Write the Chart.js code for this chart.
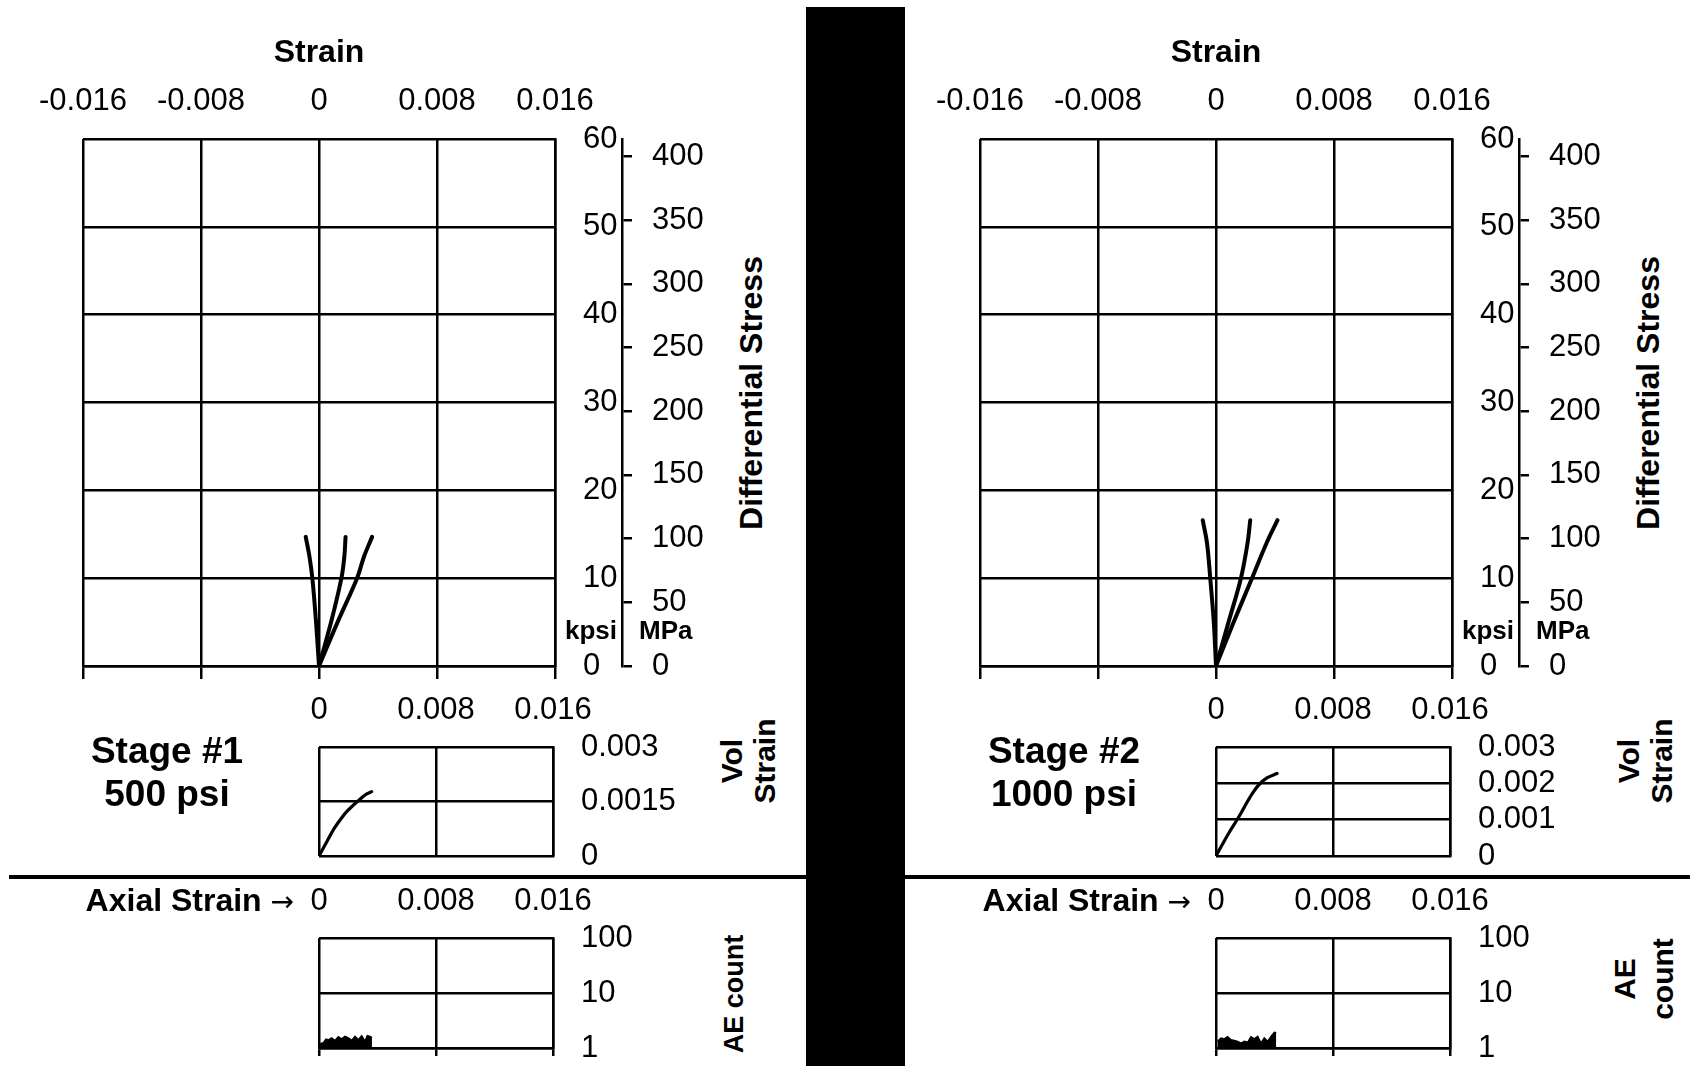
<!DOCTYPE html>
<html>
<head>
<meta charset="utf-8">
<title>Triaxial stages: stress, volumetric strain and AE count</title>
<script src="https://cdn.jsdelivr.net/npm/chart.js@4/dist/chart.umd.min.js"></script>
<style>
  html, body { margin: 0; padding: 0; background: #fff; }
  #page { position: relative; width: 1690px; height: 1066px; overflow: hidden;
          font-family: "Liberation Sans", Arial, sans-serif; color: #000; }
  #page canvas { position: absolute; }
  .lbl { position: absolute; white-space: nowrap; font-weight: bold; }
  .vt  { position: absolute; transform: translate(-50%, -50%) rotate(-90deg);
         text-align: center; font-weight: bold; white-space: nowrap; }
  .bar { position: absolute; background: #000; }
  .arrow { font-family: "DejaVu Sans", sans-serif; font-weight: normal; font-size: 28px; }
</style>
</head>
<body>
<div id="page">
  <div id="plots"></div>

  <!-- panel dividers -->
  <div class="bar" style="left:806px;top:7px;width:99px;height:1059px;"></div>
  <div class="bar" style="left:9px;top:875px;width:797px;height:4px;"></div>
  <div class="bar" style="left:905px;top:875px;width:785px;height:4px;"></div>

  <!-- stage captions -->
  <div class="lbl" style="left:17px;top:729px;width:300px;text-align:center;font-size:37px;line-height:43px;">Stage #1<br>500 psi</div>
  <div class="lbl" style="left:914px;top:729px;width:300px;text-align:center;font-size:37px;line-height:43px;">Stage #2<br>1000 psi</div>

  <div class="lbl" style="right:1396px;top:881px;text-align:right;font-size:32px;line-height:38px;">Axial Strain <span class="arrow">&rarr;</span></div>
  <div class="lbl" style="right:499px;top:881px;text-align:right;font-size:32px;line-height:38px;">Axial Strain <span class="arrow">&rarr;</span></div>

  <!-- stress unit captions -->
  <div class="lbl" style="right:1073px;top:615px;font-size:26px;line-height:30px;">kpsi</div>
  <div class="lbl" style="left:639px;top:615px;font-size:26px;line-height:30px;">MPa</div>
  <div class="lbl" style="right:176px;top:615px;font-size:26px;line-height:30px;">kpsi</div>
  <div class="lbl" style="left:1536px;top:615px;font-size:26px;line-height:30px;">MPa</div>

  <!-- vertical axis titles -->
  <div class="vt" style="left:751px;top:393px;font-size:32px;line-height:36px;">Differential Stress</div>
  <div class="vt" style="left:1648px;top:393px;font-size:32px;line-height:36px;">Differential Stress</div>
  <div class="vt" style="left:748px;top:761px;font-size:30px;line-height:33px;">Vol<br>Strain</div>
  <div class="vt" style="left:1645px;top:761px;font-size:30px;line-height:33px;">Vol<br>Strain</div>
  <div class="vt" style="left:734px;top:994px;font-size:27px;line-height:34px;">AE count</div>
  <div class="vt" style="left:1644px;top:979px;font-size:30px;line-height:38px;">AE<br>count</div>
</div>

<script>
// ---- tick values ----
const strainTicks = [-0.016, -0.008, 0, 0.008, 0.016];
const axialTicks  = [0, 0.008, 0.016];
const kpsiTicks   = [0, 10, 20, 30, 40, 50, 60];
const mpaTicks    = [0, 50, 100, 150, 200, 250, 300, 350, 400];
const volTicks1   = [0, 0.0015, 0.003];
const volTicks2   = [0, 0.001, 0.002, 0.003];
const aeTicks     = [1, 10, 100];
const KPSI_TO_MPA = 6.894757;

// ---- Stage #1 (500 psi): differential stress (kpsi) vs strain ----
const s1Stress      = [0, 5, 10, 12.5, 14.7];
const s1Radial      = [0, -0.0002, -0.00045, -0.00065, -0.0009];
const s1Volumetric  = [0, 0.00082, 0.00152, 0.00172, 0.0018];
const s1Axial       = [0, 0.00126, 0.00258, 0.00306, 0.0036];

// ---- Stage #2 (1000 psi) ----
const s2Stress      = [0, 5, 10, 14, 16.6];
const s2Radial      = [0, -0.00015, -0.00039, -0.00061, -0.0009];
const s2Volumetric  = [0, 0.00085, 0.00169, 0.00214, 0.00232];
const s2Axial       = [0, 0.0012, 0.00244, 0.00343, 0.00417];

// ---- volumetric strain vs axial strain ----
const s1VolAxial  = [0, 0.00041, 0.00098, 0.00144, 0.00189, 0.00235, 0.00269, 0.00315, 0.0036];
const s1VolStrain = [0, 0.0003, 0.00072, 0.00099, 0.00122, 0.0014, 0.00152, 0.00168, 0.00177];
const s2VolAxial  = [0, 0.00041, 0.00086, 0.00143, 0.00189, 0.00234, 0.00291, 0.00348, 0.00417];
const s2VolStrain = [0, 0.0003, 0.00062, 0.00099, 0.00131, 0.00163, 0.00195, 0.00215, 0.00227];

// ---- acoustic emission count vs axial strain ----
const s1AeAxial = [0.00007, 0.0003, 0.00048, 0.00064, 0.00087, 0.0011, 0.00132, 0.00155, 0.00178,
                   0.002, 0.00224, 0.00246, 0.00269, 0.00292, 0.00315, 0.0033, 0.00353, 0.00362];
const s1AeCount = [1.2, 1.25, 1.45, 1.4, 1.52, 1.37, 1.6, 1.46, 1.63,
                   1.52, 1.37, 1.63, 1.41, 1.67, 1.32, 1.67, 1.6, 1.55];
const s2AeAxial = [0.00011, 0.00034, 0.00057, 0.00079, 0.00103, 0.00125, 0.00148, 0.00171, 0.00194, 0.00216,
                   0.00239, 0.00262, 0.00285, 0.00308, 0.0033, 0.00353, 0.00376, 0.00399, 0.00412];
const s2AeCount = [1.32, 1.52, 1.46, 1.6, 1.41, 1.37, 1.32, 1.23, 1.32, 1.27,
                   1.6, 1.46, 1.63, 1.23, 1.52, 1.32, 1.63, 1.92, 1.9];

// ---- drawing helpers ----
const FONT = '"Liberation Sans", Arial, sans-serif';
Chart.defaults.font.family = FONT;
Chart.defaults.color = '#000';
const LW = 2.5;
const tickFont = { size: 31, family: FONT };

const pts = (xs, ys) => xs.map((x, i) => ({ x, y: ys[i] }));
const fixTicks = values => scale => { scale.ticks = values.map(v => ({ value: v })); };
// fixed axis sizes; label overhang is absorbed by the neighbouring boxes
const fixWidth = w => scale => {
  scale.width = w; scale.paddingTop = 0; scale.paddingBottom = 0; scale.paddingLeft = 0; scale.paddingRight = 0;
};
const fixHeight = h => scale => {
  scale.height = h; scale.paddingLeft = 0; scale.paddingRight = 0; scale.paddingTop = 0; scale.paddingBottom = 0;
};
const fmt = v => String(v);

function makeCanvas(left, top, width, height) {
  const c = document.createElement('canvas');
  c.width = width; c.height = height;
  c.style.left = left + 'px'; c.style.top = top + 'px';
  c.style.width = width + 'px'; c.style.height = height + 'px';
  document.getElementById('plots').appendChild(c);
  return c;
}

function baseOptions(padL, padB) {
  return {
    responsive: false, animation: false, devicePixelRatio: 1, events: [],
    layout: { padding: { left: padL, right: 0, top: 0, bottom: padB } },
    plugins: { legend: { display: false }, tooltip: { enabled: false } },
    elements: { point: { radius: 0 } }
  };
}

function curve(xs, ys, width) {
  return { data: pts(xs, ys), borderColor: '#000', borderWidth: width, pointRadius: 0,
           tension: 0.35, fill: false, borderCapStyle: 'round' };
}

// label-only strain axis along the top of a plot
function topLabels(min, max, values, height, padding) {
  return { type: 'linear', position: 'top', min, max,
           afterBuildTicks: fixTicks(values), afterFit: fixHeight(height),
           grid: { display: false, drawTicks: false }, border: { display: false },
           ticks: { font: tickFont, padding, callback: fmt, autoSkip: false, maxRotation: 0 } };
}

// differential stress vs strain, with kpsi and MPa scales on the right
function stressChart(box, series) {
  const padL = 60, botH = 14, kW = 67, mW = 100;
  const left = box.l - padL;
  const cv = makeCanvas(left, 0, box.r + kW + mW - left, box.b + botH);
  const opts = baseOptions(padL, 0);
  const xTop = topLabels(-0.016, 0.016, strainTicks, box.t, 19);
  xTop.title = { display: true, text: 'Strain', font: { size: 32, weight: 'bold', family: FONT },
                 padding: { top: 34, bottom: 0 } };
  opts.scales = {
    x: { type: 'linear', position: 'bottom', min: -0.016, max: 0.016,
         afterBuildTicks: fixTicks(strainTicks), afterFit: fixHeight(botH),
         ticks: { display: false },
         grid: { color: '#000', lineWidth: LW, drawTicks: true, tickLength: 13 },
         border: { display: true, color: '#000', width: LW } },
    xTop,
    y: { type: 'linear', position: 'right', min: 0, max: 60,
         afterBuildTicks: fixTicks(kpsiTicks), afterFit: fixWidth(kW),
         grid: { color: '#000', lineWidth: LW, drawTicks: false },
         border: { display: true, color: '#000', width: LW },
         ticks: { font: tickFont, padding: 28, crossAlign: 'near', callback: fmt, autoSkip: false } },
    yMPa: { type: 'linear', position: 'right', weight: 1, min: 0, max: 60 * KPSI_TO_MPA,
         afterBuildTicks: fixTicks(mpaTicks), afterFit: fixWidth(mW),
         grid: { drawOnChartArea: false, color: '#000', lineWidth: LW, drawTicks: true, tickLength: 10 },
         border: { display: true, color: '#000', width: LW },
         ticks: { font: tickFont, padding: 20, crossAlign: 'near', callback: fmt, autoSkip: false } }
  };
  new Chart(cv, { type: 'line', data: { datasets: series.map(s => curve(s[0], s[1], 4)) }, options: opts });
}

// volumetric strain vs axial strain
function volChart(box, yTicks, xs, ys) {
  const padL = 40, topH = 67, yW = 140, padB = 22;
  const left = box.l - padL, top = box.t - topH;
  const cv = makeCanvas(left, top, box.r + yW - left, box.b + padB - top);
  const opts = baseOptions(padL, padB);
  opts.scales = {
    x: { type: 'linear', position: 'top', min: 0, max: 0.016,
         afterBuildTicks: fixTicks(axialTicks), afterFit: fixHeight(topH),
         grid: { color: '#000', lineWidth: LW, drawTicks: false }, border: { display: false },
         ticks: { font: tickFont, padding: 18, callback: fmt, autoSkip: false, maxRotation: 0 } },
    y: { type: 'linear', position: 'right', min: 0, max: 0.003,
         afterBuildTicks: fixTicks(yTicks), afterFit: fixWidth(yW),
         grid: { color: '#000', lineWidth: LW, drawTicks: false },
         border: { display: true, color: '#000', width: LW },
         ticks: { font: tickFont, padding: 28, crossAlign: 'near', callback: fmt, autoSkip: false } }
  };
  new Chart(cv, { type: 'line', data: { datasets: [curve(xs, ys, 3.2)] }, options: opts });
}

// acoustic emission count (log) vs axial strain
function aeChart(box, xs, ys) {
  const padL = 40, topH = 60, botH = 10, yW = 140, padB = 8;
  const left = box.l - padL, top = box.t - topH;
  const cv = makeCanvas(left, top, box.r + yW - left, box.b + botH + padB - top);
  const opts = baseOptions(padL, padB);
  opts.scales = {
    x: { type: 'linear', position: 'bottom', min: 0, max: 0.016,
         afterBuildTicks: fixTicks(axialTicks), afterFit: fixHeight(botH),
         ticks: { display: false },
         grid: { color: '#000', lineWidth: LW, drawTicks: true, tickLength: 8 },
         border: { display: true, color: '#000', width: LW } },
    xTop: topLabels(0, 0.016, axialTicks, topH, 18),
    y: { type: 'logarithmic', position: 'right', min: 1, max: 100,
         afterBuildTicks: fixTicks(aeTicks), afterFit: fixWidth(yW),
         grid: { color: '#000', lineWidth: LW, drawTicks: false },
         border: { display: true, color: '#000', width: LW },
         ticks: { font: tickFont, padding: 28, crossAlign: 'near', callback: fmt, autoSkip: false } }
  };
  new Chart(cv, { type: 'line', data: { datasets: [{
      data: pts(xs, ys), borderColor: '#000', backgroundColor: '#000', borderWidth: 1.5,
      pointRadius: 0, tension: 0, fill: 'start' }] }, options: opts });
}

// ---- Stage #1 panel ----
stressChart({ l: 83, t: 139, r: 555, b: 666 },
            [[s1Radial, s1Stress], [s1Volumetric, s1Stress], [s1Axial, s1Stress]]);
volChart({ l: 319, t: 747, r: 553, b: 856 }, volTicks1, s1VolAxial, s1VolStrain);
aeChart({ l: 319, t: 938, r: 553, b: 1048 }, s1AeAxial, s1AeCount);

// ---- Stage #2 panel ----
stressChart({ l: 980, t: 139, r: 1452, b: 666 },
            [[s2Radial, s2Stress], [s2Volumetric, s2Stress], [s2Axial, s2Stress]]);
volChart({ l: 1216, t: 747, r: 1450, b: 856 }, volTicks2, s2VolAxial, s2VolStrain);
aeChart({ l: 1216, t: 938, r: 1450, b: 1048 }, s2AeAxial, s2AeCount);
</script>
</body>
</html>
